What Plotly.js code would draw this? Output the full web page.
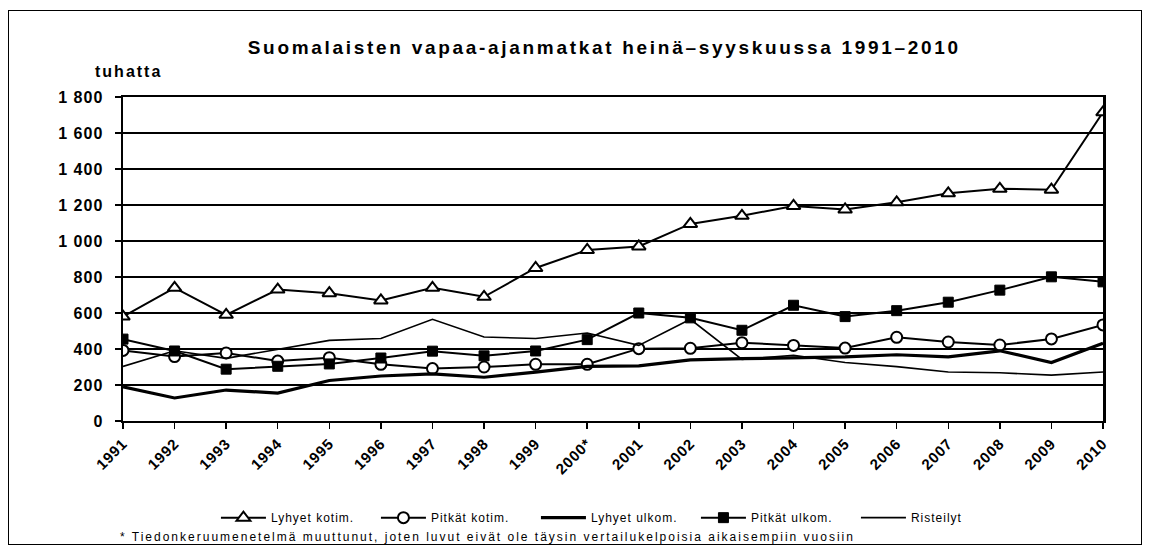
<!DOCTYPE html>
<html>
<head>
<meta charset="utf-8">
<script src="https://cdn.plot.ly/plotly-3.0.1.min.js"></script>
<style>
  html, body { margin: 0; padding: 0; background: #fff; }
  #chart { width: 1151px; height: 552px; }
  #frame { position: absolute; left: 8px; top: 10px; width: 1132px; height: 533px; border: 1.5px solid #000; pointer-events: none; }
  .gtitle { letter-spacing: 2.7px; }
  .ytick text { letter-spacing: 1px; }
  .xtick text { letter-spacing: 0.8px; }
  .legendtext { letter-spacing: 1px; }
  .annotation-text { letter-spacing: 2px; }
</style>
</head>
<body>
<div id="chart"></div>
<div id="frame"></div>
<script>
// Categories (years)
const years = ["1991","1992","1993","1994","1995","1996","1997","1998","1999","2000*",
               "2001","2002","2003","2004","2005","2006","2007","2008","2009","2010"];

// Series values (thousands)
const lyhyetKotim = [580, 740, 590, 730, 710, 670, 740, 690, 850, 950, 970, 1095, 1140, 1195, 1175, 1215, 1265, 1290, 1285, 1715];
const pitkatKotim = [392, 358, 378, 333, 352, 315, 291, 300, 315, 315, 402, 404, 435, 420, 405, 465, 439, 422, 456, 534];
const lyhyetUlkom = [190, 128, 172, 155, 225, 250, 262, 243, 272, 303, 306, 340, 346, 352, 356, 368, 356, 390, 325, 432];
const pitkatUlkom = [455, 389, 288, 304, 317, 350, 388, 362, 389, 452, 600, 573, 504, 643, 580, 613, 660, 727, 801, 773];
const risteilyt   = [303, 390, 348, 400, 448, 458, 565, 467, 458, 489, 420, 565, 342, 365, 325, 302, 272, 268, 255, 272];

const seriesNames = ["Lyhyet kotim.", "Pitkät kotim.", "Lyhyet ulkom.", "Pitkät ulkom.", "Risteilyt"];

const titleText = "Suomalaisten vapaa-ajanmatkat heinä–syyskuussa 1991–2010";
const unitText = "tuhatta";
const noteText = "* Tiedonkeruumenetelmä muuttunut, joten luvut eivät ole täysin vertailukelpoisia aikaisempiin vuosiin";

const FONT = "Liberation Sans, Arial, sans-serif";

const traces = [
  {
    x: years, y: lyhyetKotim, name: seriesNames[0], type: "scatter", mode: "lines+markers",
    line: { color: "#000", width: 2 },
    marker: { symbol: "triangle-up", size: 12, color: "#fff", line: { color: "#000", width: 2 } }
  },
  {
    x: years, y: pitkatKotim, name: seriesNames[1], type: "scatter", mode: "lines+markers",
    line: { color: "#000", width: 2 },
    marker: { symbol: "circle", size: 11, color: "#fff", line: { color: "#000", width: 2 } }
  },
  {
    x: years, y: lyhyetUlkom, name: seriesNames[2], type: "scatter", mode: "lines",
    line: { color: "#000", width: 3.2 }
  },
  {
    x: years, y: pitkatUlkom, name: seriesNames[3], type: "scatter", mode: "lines+markers",
    line: { color: "#000", width: 2 },
    marker: { symbol: "square", size: 10, color: "#000", line: { color: "#000", width: 1 } }
  },
  {
    x: years, y: risteilyt, name: seriesNames[4], type: "scatter", mode: "lines",
    line: { color: "#000", width: 1.6 }
  }
];

const layout = {
  width: 1151, height: 552,
  margin: { l: 123, r: 48, t: 97, b: 131 },
  paper_bgcolor: "#fff", plot_bgcolor: "#fff",
  separators: ", ",
  font: { family: FONT, color: "#000" },
  title: {
    text: "<b>" + titleText + "</b>",
    font: { family: FONT, size: 19, color: "#000" },
    xref: "container", x: 0.525, xanchor: "center",
    yref: "container", y: 1 - 47 / 552, yanchor: "middle"
  },
  xaxis: {
    type: "category",
    range: [0, 19],
    tickangle: -45,
    ticks: "outside", ticklen: 6, tickwidth: 1.5, tickcolor: "#000",
    tickfont: { family: FONT, size: 15, color: "#000", weight: "bold" },
    showgrid: false,
    showline: true, linecolor: "#000", linewidth: 2, mirror: true,
    zeroline: false
  },
  yaxis: {
    range: [0, 1800],
    dtick: 200,
    tickformat: ",d",
    ticks: "outside", ticklen: 6, tickwidth: 1.5, tickcolor: "#000",
    ticklabelstandoff: 8,
    tickfont: { family: FONT, size: 16, color: "#000", weight: "bold" },
    showgrid: true, gridcolor: "#000", gridwidth: 1.3,
    showline: true, linecolor: "#000", linewidth: 2.5, mirror: true,
    zeroline: false
  },
  showlegend: true,
  legend: {
    orientation: "h",
    x: 0.503, xanchor: "center",
    y: (420.5 - 517) / 323.5, yanchor: "middle",
    font: { family: FONT, size: 12, color: "#000" },
    itemwidth: 45,
    entrywidth: 100,
    tracegroupgap: 0,
    bgcolor: "rgba(0,0,0,0)"
  },
  annotations: [
    {
      text: "<b>" + unitText + "</b>",
      xref: "paper", yref: "paper",
      x: (93 - 123) / 980, xanchor: "left",
      y: (420.5 - 72) / 323.5, yanchor: "middle",
      showarrow: false,
      font: { family: FONT, size: 16, color: "#000" }
    },
    {
      text: noteText,
      xref: "paper", yref: "paper",
      x: (118 - 123) / 980, xanchor: "left",
      y: (420.5 - 536) / 323.5, yanchor: "middle",
      showarrow: false,
      font: { family: FONT, size: 12, color: "#000" }
    }
  ]
};

Plotly.newPlot("chart", traces, layout, { displayModeBar: false, staticPlot: true });
</script>
</body>
</html>
